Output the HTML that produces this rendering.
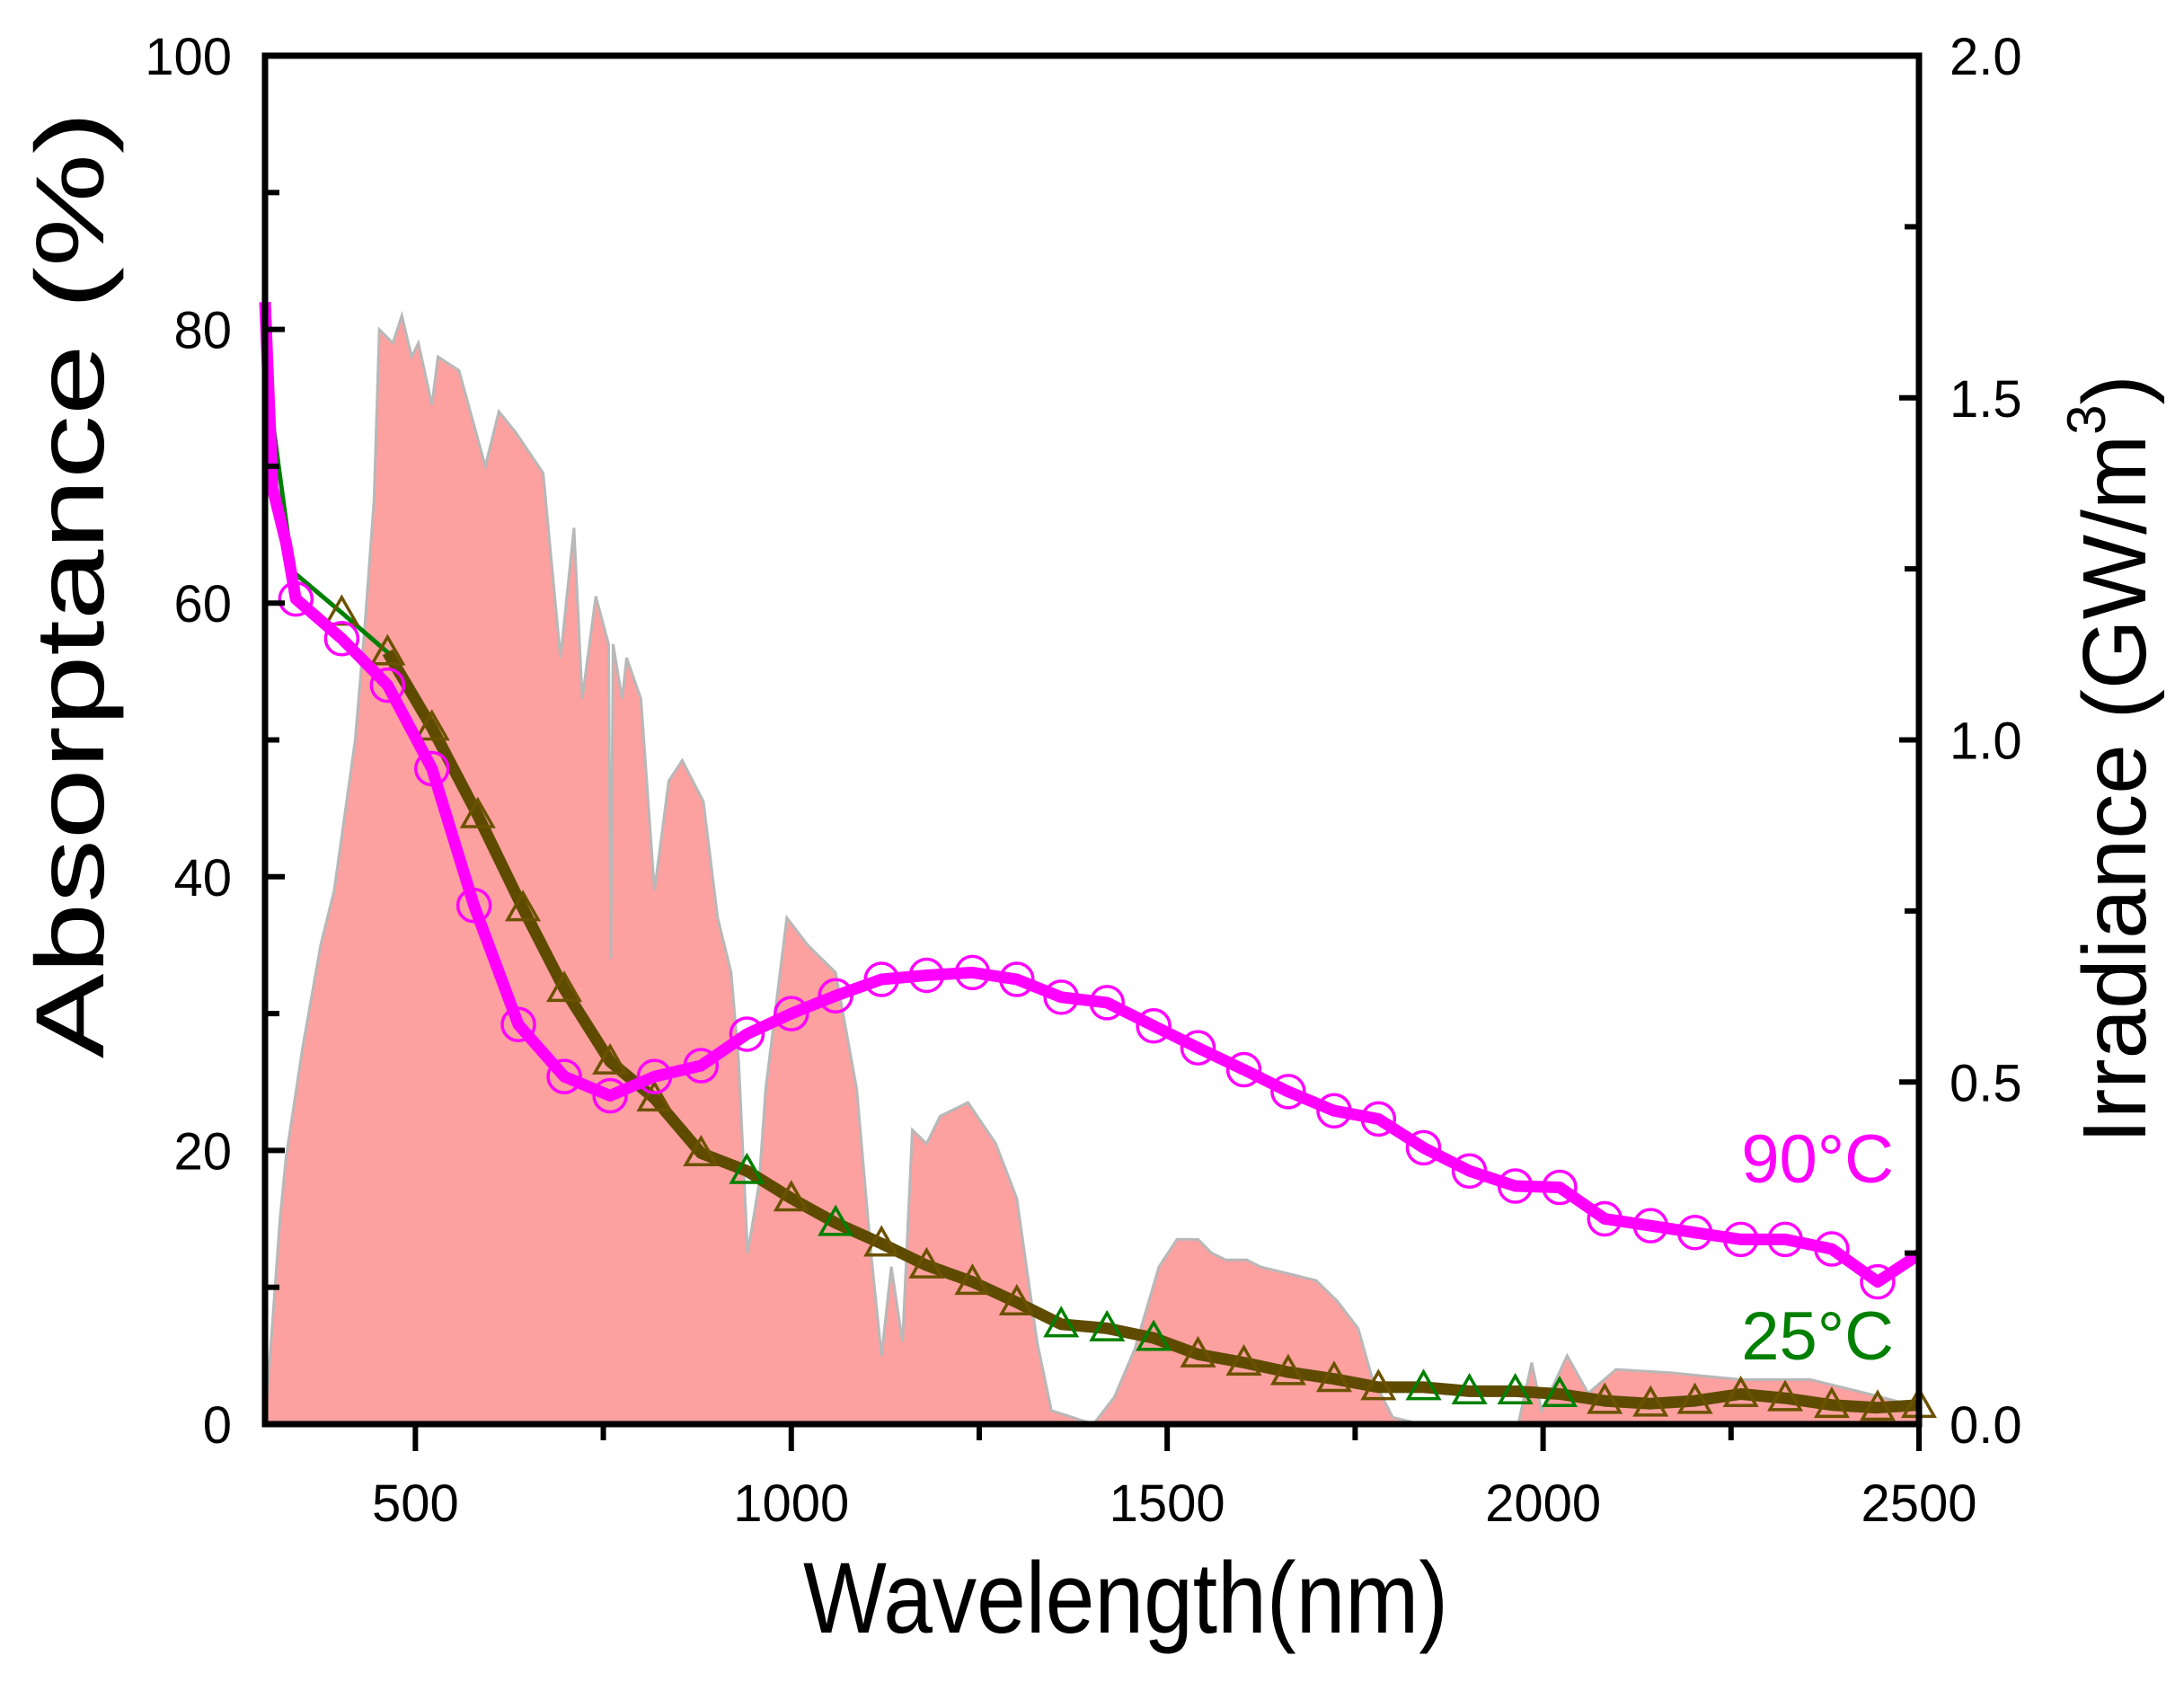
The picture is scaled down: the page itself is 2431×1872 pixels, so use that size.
<!DOCTYPE html>
<html><head><meta charset="utf-8"><style>
html,body{margin:0;padding:0;background:#fff;}
svg{display:block;font-family:"Liberation Sans",Arial,sans-serif;}
</style></head><body>
<svg id="chart" width="2431" height="1872" viewBox="0 0 2431 1872" xmlns="http://www.w3.org/2000/svg">
<g id="irr"></g>
<g id="s25"></g>
<g id="s90"></g>
<g id="axes"></g>
<text x="2108" y="1316" font-size="76" fill="#ff00ff" text-anchor="end">90°C</text>
<text x="2108" y="1513" font-size="76" fill="#008000" text-anchor="end">25°C</text>
<text x="1253" y="1817" font-size="112" text-anchor="middle" textLength="718" lengthAdjust="spacingAndGlyphs">Wavelength(nm)</text>
<text transform="translate(115,651) rotate(-90)" font-size="108" text-anchor="middle" textLength="1054" lengthAdjust="spacingAndGlyphs">Absorptance (%)</text>
<text transform="translate(2388,845) rotate(-90)" font-size="100" text-anchor="middle">Irradiance (GW/m<tspan font-size="60" dy="-45">3</tspan><tspan dy="45">)</tspan></text>
</svg>
<script>
const irrNm=[300,320,328,350,374,392,420,433,445,452,470,482,495,504,522,530,558,593,611,633,670,693,711,722,740,757,760,763,775,781,800,818,837,855,883,902,920,930,942,957,966,994,1022,1059,1087,1106,1120,1133,1148,1161,1180,1198,1235,1272,1300,1327,1346,1374,1402,1430,1457,1489,1513,1541,1559,1578,1606,1624,1661,1698,1726,1754,1772,1800,1837,1967,1985,1998,2032,2060,2097,2171,2264,2356,2430,2500];
const irrVal=[0,0.30,0.39,0.55,0.70,0.78,1.0,1.17,1.35,1.60,1.58,1.62,1.56,1.58,1.49,1.56,1.54,1.40,1.48,1.45,1.39,1.12,1.31,1.06,1.21,1.14,0.68,1.14,1.06,1.12,1.06,0.78,0.94,0.97,0.91,0.74,0.66,0.53,0.25,0.35,0.49,0.74,0.70,0.66,0.49,0.25,0.10,0.23,0.12,0.43,0.41,0.45,0.47,0.41,0.33,0.12,0.02,0.01,0,0.04,0.11,0.23,0.27,0.27,0.25,0.24,0.24,0.23,0.22,0.21,0.18,0.14,0.07,0.01,0,0,0.09,0.02,0.10,0.045,0.08,0.075,0.065,0.065,0.045,0.025];
const a90Nm=[300,310,328,341,402,463,522,578,637,698,759,818,880,941,1000,1059,1120,1180,1241,1300,1359,1420,1482,1541,1602,1661,1722,1781,1841,1902,1963,2022,2082,2143,2202,2263,2322,2384,2445,2500];
const a90Val=[82,68.4,64.4,60.3,57.4,54,47.9,37.9,29.2,25.4,24,25.4,26.2,28.5,30,31.3,32.5,32.8,33,32.5,31.2,30.8,29.1,27.5,25.9,24.3,22.9,22.3,20.2,18.5,17.4,17.3,15,14.5,14,13.5,13.5,12.8,10.4,12.4];
const a25Nm=[300,318,337,402,463,522,583,643,698,759,818,880,941,1000,1059,1120,1180,1241,1300,1359,1420,1482,1541,1602,1661,1722,1781,1841,1902,1963,2022,2082,2143,2202,2263,2322,2384,2445,2500];
const a25Val=[77.6,70,62.3,59.3,56.4,50.9,44.5,37.7,31.8,26.5,23.8,19.8,18.5,16.5,14.7,13.2,11.6,10.4,8.9,7.3,7.0,6.3,5.1,4.5,3.8,3.3,2.7,2.7,2.4,2.4,2.2,1.7,1.5,1.7,2.2,1.9,1.4,1.2,1.4];
const xTicks=[500,1000,1500,2000,2500];
const yLeftTicks=[0,20,40,60,80,100];
const yRightTicks=["0.0","0.5","1.0","1.5","2.0"];

const L=295,R=2136,T=62,B=1585;
const X=nm=>L+(nm-300)/2200*(R-L);
const YL=p=>B-p/100*(B-T);
const YR=v=>B-v/2*(B-T);
const NS="http://www.w3.org/2000/svg";
function mk(tag,attrs,parent){const e=document.createElementNS(NS,tag);for(const k in attrs)e.setAttribute(k,attrs[k]);parent.appendChild(e);return e;}

const irr=document.getElementById('irr');
let d='M'+X(irrNm[0])+','+YR(0);
irrNm.forEach((n,i)=>{d+=' L'+X(n).toFixed(1)+','+YR(irrVal[i]).toFixed(1);});
d+=' L'+X(2500)+','+YR(0)+' Z';
const area=mk('path',{d:d,fill:'#fca0a0',stroke:'#b8b8b8','stroke-width':3},irr);



const s25=document.getElementById('s25');
const pts25=a25Nm.map((n,i)=>X(n).toFixed(1)+','+YL(a25Val[i]).toFixed(1)).join(' ');
const g25=mk('polyline',{points:pts25,fill:'none',stroke:'#008000','stroke-width':5},s25);


const olivePts=a25Nm.map((n,i)=>({n:n,v:a25Val[i]})).filter(p=>p.n>=430);
const ol=mk('polyline',{points:olivePts.map(p=>X(p.n).toFixed(1)+','+YL(p.v).toFixed(1)).join(' '),fill:'none',stroke:'#5e4b00','stroke-width':13,'stroke-linejoin':'round'},s25);


const greenIdx=[12,14,19,20,21,27,28,29,30];
a25Nm.forEach((n,i)=>{if(i<3)return;const cx=X(n),cy=YL(a25Val[i]);const s=17;
 const col=greenIdx.includes(i)?'#008000':'#6b5200';
 const t=mk('polygon',{points:`${cx},${cy-s} ${cx-s},${cy+s*0.75} ${cx+s},${cy+s*0.75}`,fill:'none',stroke:col,'stroke-width':3.5},s25);
 
 });

const s90=document.getElementById('s90');
const l90=mk('polyline',{points:a90Nm.map((n,i)=>X(n).toFixed(1)+','+YL(a90Val[i]).toFixed(1)).join(' '),fill:'none',stroke:'#ff00ff','stroke-width':13,'stroke-linejoin':'round'},s90);


a90Nm.forEach((n,i)=>{if(i<3||n===2500)return;
 const c=mk('circle',{cx:X(n),cy:YL(a90Val[i]),r:18,fill:'none',stroke:'#ff00ff','stroke-width':3.5},s90);
 
 });

const ax=document.getElementById('axes');
const frame=mk('rect',{x:L,y:T,width:R-L,height:B-T,fill:'none',stroke:'#000','stroke-width':7},ax);


for(let n=500;n<=2500;n+=250){const maj=n%500===0;
 const tk=mk('line',{x1:X(n),x2:X(n),y1:B,y2:B+(maj?30:18),stroke:'#000','stroke-width':6},ax);
 
 }
xTicks.forEach(n=>{const t=mk('text',{x:X(n),y:1693,'font-size':58,'text-anchor':'middle'},ax);t.textContent=n;
 
 });
for(let p=0;p<=100;p+=10){const maj=p%20===0;
 const tk=mk('line',{x1:L,x2:L+(maj?22:16),y1:YL(p),y2:YL(p),stroke:'#000','stroke-width':6},ax);
 
 }
yLeftTicks.forEach(p=>{const t=mk('text',{x:258,y:YL(p)+21,'font-size':58,'text-anchor':'end'},ax);t.textContent=p;
 
 });
for(let v=0;v<=2;v+=0.25){const maj=Math.abs(v*2-Math.round(v*2))<1e-6;
 const tk=mk('line',{x1:R,x2:R-(maj?22:16),y1:YR(v),y2:YR(v),stroke:'#000','stroke-width':6},ax);
 
 }
yRightTicks.forEach(s=>{const t=mk('text',{x:2170,y:YR(parseFloat(s))+21,'font-size':58},ax);t.textContent=s;
 
 });
</script>
</body></html>
